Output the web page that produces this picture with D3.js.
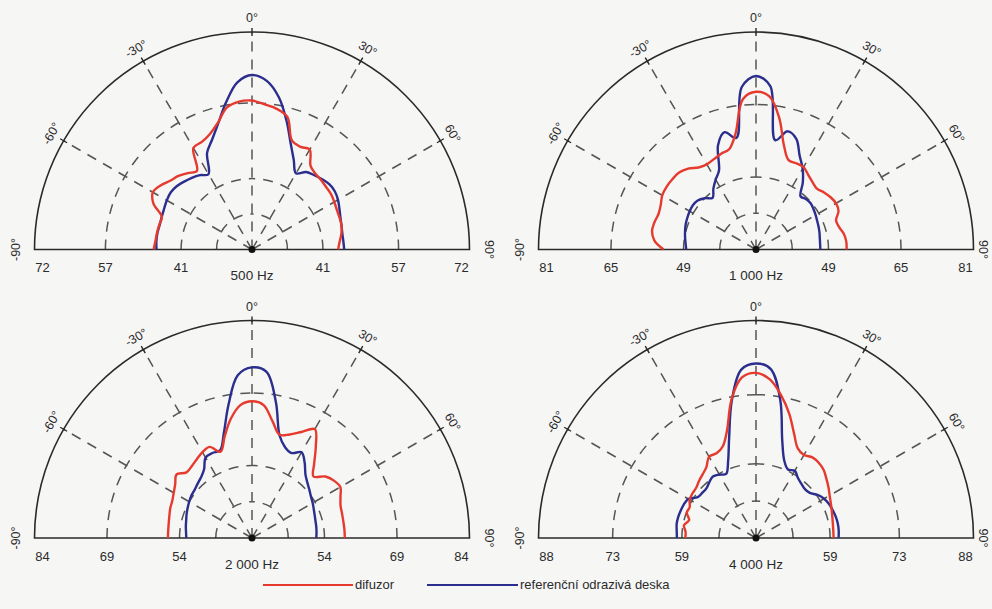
<!DOCTYPE html>
<html>
<head>
<meta charset="utf-8">
<script src="https://cdn.jsdelivr.net/npm/d3@7"></script>
<style>
  html, body { margin: 0; padding: 0; background: #f6f6f5; }
  svg { display: block; }
  text { font-family: "Liberation Sans Narrow", "Arial Narrow", "Liberation Sans", Arial, sans-serif; fill: #2b2b2b; }
</style>
</head>
<body>
<svg id="chart" width="992" height="609"></svg>
<script>
// Measurement angles (degrees, 0° = normal incidence, clockwise positive)
const angles = [-90, -85, -80, -75, -70, -65, -60, -55, -50, -45, -40, -35, -30, -25, -20, -15, -10, -5, 0,
                5, 10, 15, 20, 25, 30, 35, 40, 45, 50, 55, 60, 65, 70, 75, 80, 85, 90];

// Angle grid and its labels
const angleTicks = [-90, -60, -30, 0, 30, 60, 90];
const angleTickLabels = ["-90°", "-60°", "-30°", "0°", "30°", "60°", "90°"];

// Octave bands shown in the four panels
const bands = ["500 Hz", "1 000 Hz", "2 000 Hz", "4 000 Hz"];

// Radial scale per band: level at the centre and labelled rings (dB)
const radialMin = [26, 33, 39, 44];
const ringTicks500 = [41, 57, 72];
const ringTicks1000 = [49, 65, 81];
const ringTicks2000 = [54, 69, 84];
const ringTicks4000 = [59, 73, 88];

// Scattered level, diffuser (dB)
const difuzor500 = [46.8, 46.5, 46.4, 46.3, 46.3, 49.0, 50.2, 49.6, 48.6, 48.0, 47.1, 46.3, 50.8, 51.1, 52.0, 53.8, 56.5, 57.4, 57.5,
                    56.8, 56.2, 55.0, 50.6, 50.0, 50.4, 47.6, 46.9, 46.7, 46.5, 46.4, 46.1, 45.8, 45.7, 45.6, 45.2, 44.6, 44.2];
const difuzor1000 = [53.4, 55.5, 56.3, 56.2, 55.9, 56.2, 56.9, 57.1, 57.1, 57.0, 56.3, 55.1, 54.7, 55.0, 55.5, 55.9, 59.0, 66.3, 67.8,
                     66.9, 62.5, 56.8, 54.0, 54.0, 54.0, 53.1, 52.4, 52.0, 52.6, 53.1, 53.4, 53.1, 51.8, 52.0, 52.7, 53.0, 53.0];
const difuzor2000 = [56.4, 56.4, 56.5, 56.7, 57.0, 57.2, 57.7, 58.4, 59.4, 58.2, 58.4, 58.9, 59.5, 59.8, 58.0, 60.8, 64.1, 66.6, 67.3,
                     66.6, 63.5, 61.1, 61.8, 63.2, 65.0, 62.0, 59.0, 57.0, 58.8, 59.7, 60.1, 59.2, 58.5, 58.3, 58.2, 58.2, 58.2];
const difuzor4000 = [58.3, 58.3, 58.8, 58.0, 58.9, 58.8, 59.5, 59.7, 59.8, 60.3, 60.8, 61.5, 63.0, 62.9, 63.7, 66.6, 72.5, 76.6, 77.4,
                     76.2, 73.3, 70.0, 66.5, 64.0, 63.4, 63.9, 63.8, 63.4, 62.6, 61.9, 61.2, 60.7, 60.3, 60.0, 59.8, 59.7, 59.7];

// Scattered level, reference reflecting panel (dB)
const reference500 = [46.2, 46.3, 46.3, 46.2, 46.3, 46.5, 46.8, 47.0, 46.8, 46.3, 45.8, 45.2, 44.4, 48.5, 50.7, 53.6, 57.6, 61.5, 62.9,
                      61.8, 58.7, 54.2, 49.9, 46.9, 44.6, 46.0, 46.5, 47.0, 47.4, 47.4, 47.0, 46.4, 45.9, 45.6, 45.4, 45.4, 45.5];
const reference1000 = [48.4, 48.6, 48.9, 49.2, 49.5, 49.7, 49.9, 50.0, 49.8, 49.0, 47.9, 49.4, 50.8, 52.3, 57.5, 59.8, 58.0, 69.0, 71.3,
                       69.2, 57.5, 60.0, 59.0, 55.8, 53.6, 51.0, 48.3, 48.7, 48.8, 48.5, 48.2, 47.9, 47.7, 47.5, 47.3, 47.2, 47.2];
const reference2000 = [52.6, 52.7, 52.9, 53.1, 53.4, 53.7, 54.0, 54.3, 54.5, 54.9, 55.4, 56.3, 58.2, 58.4, 58.3, 61.5, 67.0, 72.8, 74.3,
                       73.5, 67.5, 61.0, 59.0, 58.4, 59.5, 58.0, 56.2, 55.2, 54.5, 53.9, 53.5, 53.1, 52.8, 52.6, 52.5, 52.4, 52.3];
const reference4000 = [60.0, 60.1, 60.3, 60.3, 60.2, 60.1, 59.8, 58.4, 58.2, 58.2, 58.7, 59.2, 58.8, 58.3, 60.5, 65.0, 72.2, 78.2, 79.3,
                       78.3, 72.3, 64.5, 60.7, 59.3, 59.7, 58.8, 58.3, 58.0, 58.2, 59.2, 59.9, 60.3, 60.5, 60.7, 60.8, 60.8, 60.7];

const seriesNames = ["difuzor", "referenční odrazivá deska"];
const seriesColors = ["#e63a2e", "#2b2e8c"];

// ---- layout ----
const width = 992;
const svg = d3.select("#chart");
const R = 217.5;
const centers = [[252, 249.5], [756, 249.5], [252, 538], [756, 538]];
const gridColor = "#555";
const axisColor = "#2a2a2a";

const panels = [
  { band: bands[0], min: radialMin[0], ticks: ringTicks500, dif: difuzor500, ref: reference500 },
  { band: bands[1], min: radialMin[1], ticks: ringTicks1000, dif: difuzor1000, ref: reference1000 },
  { band: bands[2], min: radialMin[2], ticks: ringTicks2000, dif: difuzor2000, ref: reference2000 },
  { band: bands[3], min: radialMin[3], ticks: ringTicks4000, dif: difuzor4000, ref: reference4000 }
];

const rad = d => d * Math.PI / 180;

panels.forEach((p, i) => {
  const [cx, cy] = centers[i];
  const g = svg.append("g").attr("transform", `translate(${cx},${cy})`);
  const rMax = p.ticks[p.ticks.length - 1];
  const r = d3.scaleLinear().domain([p.min, rMax]).range([0, R]);

  // dashed rings (each half drawn from the baseline upwards)
  const ringRadii = [r(p.ticks[0]) / 2, r(p.ticks[0]), r(p.ticks[1])];
  ringRadii.forEach(rr => {
    [[-1, 1], [1, 0]].forEach(([s, sweep]) => {
      g.append("path")
        .attr("d", `M${s * rr},0 A${rr},${rr} 0 0 ${sweep} 0,${-rr}`)
        .attr("fill", "none").attr("stroke", gridColor).attr("stroke-width", 1.5)
        .attr("stroke-dasharray", "10,8");
    });
  });

  // dashed spokes
  angleTicks.filter(a => Math.abs(a) < 90).forEach(a => {
    g.append("line")
      .attr("x1", 0).attr("y1", 0)
      .attr("x2", R * Math.sin(rad(a))).attr("y2", -R * Math.cos(rad(a)))
      .attr("stroke", gridColor).attr("stroke-width", 1.5)
      .attr("stroke-dasharray", "10,8");
    // small tick on the outer arc
    g.append("line")
      .attr("x1", (R - 4) * Math.sin(rad(a))).attr("y1", -(R - 4) * Math.cos(rad(a)))
      .attr("x2", (R + 4) * Math.sin(rad(a))).attr("y2", -(R + 4) * Math.cos(rad(a)))
      .attr("stroke", axisColor).attr("stroke-width", 1.4);
  });

  // outer semicircle and baseline
  g.append("path")
    .attr("d", `M${-R},0 A${R},${R} 0 0 1 ${R},0 Z`)
    .attr("fill", "none").attr("stroke", axisColor).attr("stroke-width", 1.6);

  // centre point
  g.append("circle").attr("r", 3.5).attr("fill", "#111");

  // curves
  const line = d3.lineRadial()
    .angle(d => rad(d[0]))
    .radius(d => r(d[1]))
    .curve(d3.curveCatmullRom.alpha(0.5));

  [p.ref, p.dif].forEach((vals, k) => {
    const color = k === 0 ? seriesColors[1] : seriesColors[0];
    g.append("path")
      .datum(angles.map((a, j) => [a, vals[j]]))
      .attr("d", line)
      .attr("fill", "none")
      .attr("stroke", color)
      .attr("stroke-width", 2.4)
      .attr("stroke-linejoin", "round");
  });

  // angle labels (kept inside the page on the right edge)
  angleTicks.forEach((a, j) => {
    const rl = Math.abs(a) === 90 ? R + 19 : R + 14;
    let x = rl * Math.sin(rad(a));
    const y = -rl * Math.cos(rad(a));
    if (cx + x > width - 9) x = width - 9 - cx;
    g.append("text")
      .attr("transform", `translate(${x},${y}) rotate(${a})`)
      .attr("text-anchor", "middle")
      .attr("dominant-baseline", "central")
      .attr("font-size", 12.5)
      .text(angleTickLabels[j]);
  });

  // radial tick labels along the baseline
  p.ticks.forEach((t, j) => {
    const isOuter = j === p.ticks.length - 1;
    const xr = isOuter ? r(t) - 8 : r(t);
    [-1, 1].forEach(s => {
      g.append("text")
        .attr("x", s * xr).attr("y", 18)
        .attr("text-anchor", "middle")
        .attr("dominant-baseline", "central")
        .attr("font-size", 13)
        .text(t);
    });
  });

  // band label
  g.append("text")
    .attr("x", 0).attr("y", 26)
    .attr("text-anchor", "middle")
    .attr("dominant-baseline", "central")
    .attr("font-size", 13.5)
    .text(p.band);
});

// legend
const legend = svg.append("g");
const legendItems = [
  { x1: 263, x2: 353, tx: 355, name: seriesNames[0], color: seriesColors[0] },
  { x1: 427, x2: 518, tx: 520, name: seriesNames[1], color: seriesColors[1] }
];
legendItems.forEach(it => {
  legend.append("line")
    .attr("x1", it.x1).attr("x2", it.x2).attr("y1", 585).attr("y2", 585)
    .attr("stroke", it.color).attr("stroke-width", 2);
  legend.append("text")
    .attr("x", it.tx).attr("y", 584)
    .attr("dominant-baseline", "central")
    .attr("font-size", 13)
    .text(it.name);
});
</script>
</body>
</html>
